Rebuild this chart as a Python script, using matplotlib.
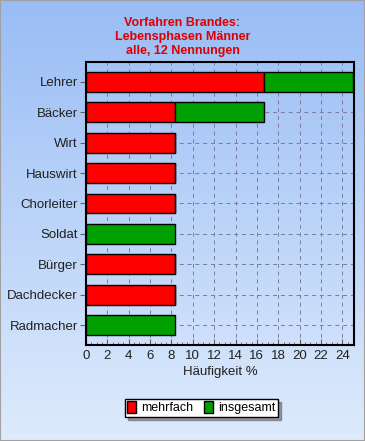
import matplotlib
matplotlib.use("Agg")
import matplotlib.pyplot as plt
import numpy as np
from matplotlib.ticker import MultipleLocator
from matplotlib.patches import Rectangle

plt.rcParams['font.family'] = ['Liberation Sans', 'DejaVu Sans']

categories = ['Lehrer', 'Bäcker', 'Wirt', 'Hauswirt', 'Chorleiter', 'Soldat',
              'Bürger', 'Dachdecker', 'Radmacher']
mehrfach = [16.67, 8.33, 8.33, 8.33, 8.33, 0, 8.33, 8.33, 0]
insgesamt = [8.33, 8.33, 0, 0, 0, 8.33, 0, 0, 8.33]

fig = plt.figure(figsize=(3.65, 4.41), dpi=100)

# gradient background
bg = fig.add_axes([0, 0, 1, 1], zorder=-10)
grad = np.linspace(0, 1, 256).reshape(-1, 1)
top = np.array([0.60, 0.74, 0.96])
bot = np.array([0.87, 0.92, 0.99])
img = top + (bot - top) * grad[:, :, None] * np.ones((1, 2, 1))
bg.imshow(img, aspect='auto', extent=[0, 1, 0, 1], origin='upper')
bg.add_patch(Rectangle((0, 0), 1, 1, fill=False, edgecolor='#a0a0a0', lw=1.5,
                       transform=bg.transAxes))
bg.axis('off')

ax = fig.add_axes([0.2356, 0.2177, 0.7344, 0.6417])
ax.patch.set_alpha(0)

y = np.arange(len(categories))
ax.barh(y, mehrfach, height=0.65, color='#ff0000', edgecolor='black', lw=1,
        label='mehrfach', zorder=3)
ax.barh(y, insgesamt, left=mehrfach, height=0.65, color='#00a000',
        edgecolor='black', lw=1, label='insgesamt', zorder=3)

ax.set_yticks(y)
ax.set_yticklabels(categories, fontsize=9.5, color='#202020')
ax.set_ylim(len(categories) - 0.35, -0.65)
ax.set_xlim(0, 25.1)
ax.xaxis.set_major_locator(MultipleLocator(2))
ax.xaxis.set_minor_locator(MultipleLocator(0.5))
ax.tick_params(axis='x', which='major', labelsize=9.5, colors='#202020',
               direction='in', length=4, color='#606060')
ax.tick_params(axis='x', which='minor', direction='in', length=2, color='#606060')
ax.tick_params(axis='y', length=4, color='#606060', pad=2)
ax.grid(True, which='major', ls=(0, (4, 4)), color='#7a7a99', lw=0.7, zorder=0)
for s in ax.spines.values():
    s.set_linewidth(1.5)
    s.set_color('black')
ax.set_xlabel('Häufigkeit %', fontsize=9.5, color='#202020', labelpad=3)

fig.text(0.5, 0.962, 'Vorfahren Brandes:\nLebensphasen Männer\nalle, 12 Nennungen',
         ha='center', va='top', color='#dd0000', fontsize=9, fontweight='bold',
         linespacing=1.25)

h, l = ax.get_legend_handles_labels()
leg = fig.legend(h, l, loc='center', bbox_to_anchor=(0.552, 0.075), ncol=2,
                 fontsize=9, frameon=True, fancybox=False, shadow=True,
                 handlelength=0.7, handleheight=1.0, handletextpad=0.4,
                 columnspacing=0.9, borderpad=0.2, edgecolor='black')
leg.get_frame().set_linewidth(1)
leg.get_frame().set_facecolor('white')

fig.savefig('out.png', dpi=100)
